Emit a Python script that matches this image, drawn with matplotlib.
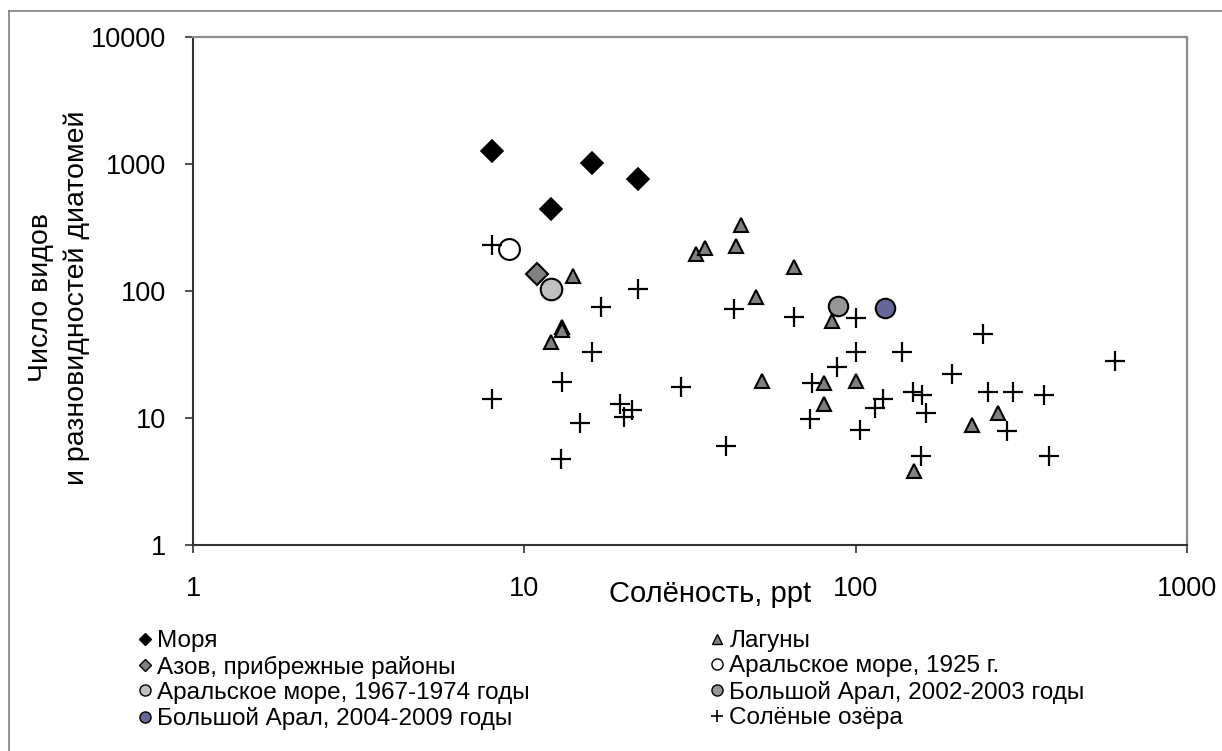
import matplotlib
matplotlib.use('Agg')
import matplotlib.pyplot as plt
from matplotlib.lines import Line2D

plt.rcParams['font.family'] = ['Liberation Sans', 'DejaVu Sans']

# --- data (salinity ppt, number of taxa) ---
morya_x = [8.0, 12.0, 16.0, 22.0]
morya_y = [1265, 442, 1012, 762]

laguny_x = [14.0, 13.0, 13.0, 12.0, 33.0, 35.0, 43.5, 45.0, 65.0, 50.0,
            85.0, 52.0, 80.0, 100.0, 80.0, 150.0, 225.0, 268.0]
laguny_y = [132, 52, 49, 40, 196, 217, 227, 331, 155, 90,
            58, 19.7, 18.8, 19.7, 12.9, 3.85, 8.8, 10.9]

azov_x = [10.9]
azov_y = [136]

aral1925_x = [9.0]
aral1925_y = [213]

aral1967_x = [12.0]
aral1967_y = [104]

ba2002_x = [88.5]
ba2002_y = [76]

ba2004_x = [123.0]
ba2004_y = [73]

ozera_x = [8.0, 8.0, 13.0, 12.9, 14.7, 16.0, 17.0, 22.1, 19.4, 21.1,
           20.0, 29.7, 40.5, 43.0, 65.0, 73.7, 72.8, 88.1, 100.0, 100.0,
           103.0, 114.0, 121.0, 138.0, 149.0, 159.0, 163.0, 157.0, 195.0, 243.0,
           250.0, 299.0, 286.0, 369.0, 383.0, 607.0]
ozera_y = [230, 14.0, 19.3, 4.73, 9.1, 33.3, 74.4, 103, 13.0, 11.6,
           10.1, 17.6, 6.0, 71.8, 62.1, 19.0, 9.9, 25.4, 61, 33.3,
           8.05, 11.9, 14.0, 32.9, 16.1, 15.2, 10.9, 5.0, 22.2, 46,
           16.1, 16.1, 7.94, 15.2, 5.0, 28.1]

x_ticks = [1, 10, 100, 1000]
y_ticks = [1, 10, 100, 1000, 10000]

W, H = 1222, 751
fig = plt.figure(figsize=(W / 100, H / 100), dpi=100)
ax = fig.add_axes([193 / W, 1 - 545 / H, (1187 - 193) / W, (545 - 37) / H])

# series in the original (Excel) order
ax.plot(morya_x, morya_y, 'D', ms=11, mfc='black', mec='black', mew=1.2, ls='none')
ax.plot(laguny_x, laguny_y, '^', ms=10.5, mfc='#808080', mec='black', mew=1.5, ls='none')
ax.plot(azov_x, azov_y, 'D', ms=11, mfc='#808080', mec='black', mew=1.5, ls='none')
ax.plot(aral1925_x, aral1925_y, 'o', ms=15, mfc='white', mec='black', mew=1.5, ls='none')
ax.plot(aral1967_x, aral1967_y, 'o', ms=15.5, mfc='#c0c0c0', mec='black', mew=1.5, ls='none')
ax.plot(ba2002_x, ba2002_y, 'o', ms=14, mfc='#969696', mec='black', mew=1.5, ls='none')
ax.plot(ba2004_x, ba2004_y, 'o', ms=14, mfc='#666699', mec='black', mew=1.5, ls='none')
ax.plot(ozera_x, ozera_y, '+', ms=14, mec='black', mew=1.6, ls='none')

ax.set_xscale('log')
ax.set_yscale('log')
ax.set_xlim(1, 1000)
ax.set_ylim(1, 10000)
ax.set_xticks(x_ticks)
ax.set_xticklabels([str(v) for v in x_ticks])
ax.set_yticks(y_ticks)
ax.set_yticklabels([str(v) for v in y_ticks])
ax.minorticks_off()

ax.tick_params(axis='both', labelsize=19.5, colors='#333333', labelcolor='black',
               width=1.2, length=6, direction='out')
ax.tick_params(axis='x', pad=16)
ax.tick_params(axis='y', pad=13)

for s in ['left', 'bottom']:
    ax.spines[s].set_color('#333333')
    ax.spines[s].set_linewidth(1.5)
for s in ['top', 'right']:
    ax.spines[s].set_color('#8c8c8c')
    ax.spines[s].set_linewidth(1.6)

# axis titles
fig.text(59 / W, 1 - 298 / H, 'Число видов\nи разновидностей диатомей',
         rotation=90, ha='center', va='center', fontsize=20.5,
         linespacing=1.5, multialignment='center')
fig.text(710 / W, 1 - 594 / H, 'Солёность, ppt', ha='center', va='center', fontsize=21)

# chart-area border (only left and top edges are inside the picture)
fig.add_artist(Line2D([9 / W, 9 / W], [0, 1 - 11 / H], transform=fig.transFigure,
                      color='#808080', lw=1.2))
fig.add_artist(Line2D([9 / W, 1], [1 - 11 / H, 1 - 11 / H], transform=fig.transFigure,
                      color='#808080', lw=1.2))

# legend
h_morya = Line2D([], [], marker='D', ls='none', ms=6.5, mfc='black', mec='black')
h_azov = Line2D([], [], marker='D', ls='none', ms=6.5, mfc='#808080', mec='black')
h_1967 = Line2D([], [], marker='o', ls='none', ms=8, mfc='#c0c0c0', mec='black')
h_2004 = Line2D([], [], marker='o', ls='none', ms=8, mfc='#666699', mec='black')
h_lag = Line2D([], [], marker='^', ls='none', ms=7, mfc='#808080', mec='black')
h_1925 = Line2D([], [], marker='o', ls='none', ms=8, mfc='white', mec='black')
h_2002 = Line2D([], [], marker='o', ls='none', ms=8, mfc='#969696', mec='black')
h_oz = Line2D([], [], marker='+', ls='none', ms=9, mec='black', mew=1.2)

leg_kw = dict(loc='upper left', frameon=False, fontsize=17.5, borderpad=0,
              borderaxespad=0, handlelength=0.55, handletextpad=0.25,
              labelspacing=0.14)
fig.legend([h_morya, h_azov, h_1967, h_2004],
           ['Моря', 'Азов, прибрежные районы', 'Аральское море, 1967-1974 годы',
            'Большой Арал, 2004-2009 годы'],
           bbox_to_anchor=(138 / W, 1 - 630 / H), **leg_kw)
fig.legend([h_lag, h_1925, h_2002, h_oz],
           ['Лагуны', 'Аральское море, 1925 г.', 'Большой Арал, 2002-2003 годы',
            'Солёные озёра'],
           bbox_to_anchor=(710 / W, 1 - 630 / H), **leg_kw)

fig.savefig('out.png', dpi=100)
